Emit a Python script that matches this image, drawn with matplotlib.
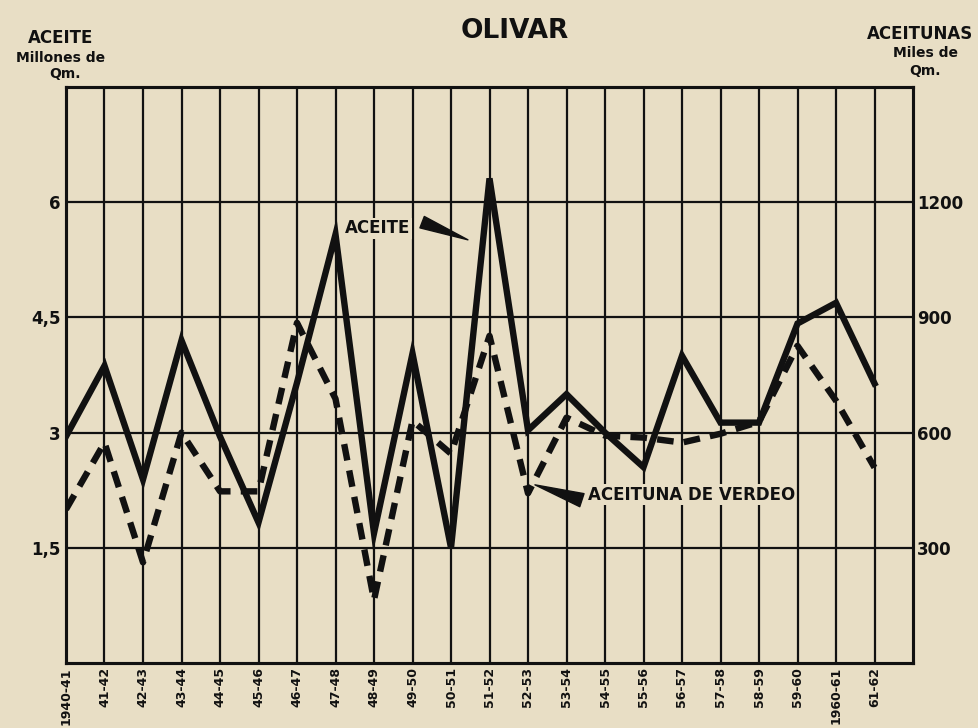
import numpy as np
import matplotlib
matplotlib.use("Agg")
import matplotlib.pyplot as plt

plt.rcParams.update({
    "font.family": ["Liberation Sans Narrow", "DejaVu Sans"],
    "font.weight": "bold",
})

#%% Data
campanas = ["1940-41", "41-42", "42-43", "43-44", "44-45", "45-46", "46-47",
            "47-48", "48-49", "49-50", "50-51", "51-52", "52-53", "53-54",
            "54-55", "55-56", "56-57", "57-58", "58-59", "59-60", "1960-61",
            "61-62"]

# Aceite, millones de Qm (eje izquierdo)
aceite = [2.95, 3.87, 2.39, 4.2, 2.95, 1.83, 3.65, 5.58, 1.69, 4.03, 1.5,
          6.31, 3.03, 3.5, 3.0, 2.55, 4.0, 3.13, 3.13, 4.42, 4.69, 3.64]

# Aceituna de verdeo, miles de Qm (eje derecho)
verdeo = [400, 574, 262, 600, 447, 447, 886, 688, 164, 631, 545, 852, 442,
          639, 592, 587, 574, 597, 628, 826, 683, 509]

left_ticks = [1.5, 3, 4.5, 6]
left_labels = ["1,5", "3", "4,5", "6"]
right_ticks = [300, 600, 900, 1200]

#%% Figure
bg = "#e8dec5"
ink = "#111111"
fig = plt.figure(figsize=(9.79, 7.28), dpi=100, facecolor=bg)
ax = fig.add_axes([66 / 979, 1 - 663 / 728, 847 / 979, 576 / 728])
ax.set_facecolor(bg)
ax2 = ax.twinx()

x = np.arange(len(campanas))

ax.plot(x, aceite, color=ink, lw=4.6, solid_joinstyle="miter", zorder=4)
ax2.plot(x, verdeo, color=ink, lw=4.6, dashes=(2.6, 1.6), zorder=3)

ax.set_xlim(0, len(campanas))
ax.set_ylim(0, 7.5)
ax2.set_ylim(0, 1500)

ax.set_xticks(x)
ax.set_xticklabels(campanas, rotation=90, fontsize=9, fontweight="bold")
ax.set_yticks(left_ticks)
ax.set_yticklabels(left_labels, fontsize=12, fontweight="bold")
ax2.set_yticks(right_ticks)
ax2.set_yticklabels([str(v) for v in right_ticks], fontsize=12, fontweight="bold")

ax.tick_params(axis="x", length=0, pad=3, colors=ink)
ax.tick_params(axis="y", length=0, pad=4, colors=ink)
ax2.tick_params(axis="y", length=0, pad=3, colors=ink)
ax.grid(True, color=ink, lw=1.6)
ax.set_axisbelow(True)
for a in (ax, ax2):
    for s in a.spines.values():
        s.set_linewidth(2.2)
        s.set_color(ink)

#%% Text
fig.text(0.526, 0.958, "OLIVAR", ha="center", va="center", fontsize=19,
         fontweight="bold", color=ink)
fig.text(0.062, 0.948, "ACEITE", ha="center", va="center", fontsize=12,
         fontweight="bold", color=ink)
fig.text(0.062, 0.921, "Millones de", ha="center", va="center", fontsize=10,
         fontweight="bold", color=ink)
fig.text(0.066, 0.898, "Qm.", ha="center", va="center", fontsize=10,
         fontweight="bold", color=ink)
fig.text(0.94, 0.953, "ACEITUNAS", ha="center", va="center", fontsize=12,
         fontweight="bold", color=ink)
fig.text(0.945, 0.927, "Miles de", ha="center", va="center", fontsize=10,
         fontweight="bold", color=ink)
fig.text(0.945, 0.903, "Qm.", ha="center", va="center", fontsize=10,
         fontweight="bold", color=ink)

ax.text(8.1, 5.66, "ACEITE", ha="center", va="center", fontsize=12,
        fontweight="bold", color=ink, zorder=6,
        bbox=dict(fc=bg, ec="none", pad=1))
ax.annotate("", xy=(10.44, 5.51), xytext=(9.25, 5.74),
            arrowprops=dict(arrowstyle="wedge,tail_width=0.4",
                            mutation_scale=22, fc=ink, ec=ink,
                            shrinkA=0, shrinkB=0), zorder=6)
ax.text(13.55, 2.19, "ACEITUNA DE VERDEO", ha="left", va="center", fontsize=12,
        fontweight="bold", color=ink, zorder=6,
        bbox=dict(fc=bg, ec="none", pad=1))
ax.annotate("", xy=(12.18, 2.32), xytext=(13.4, 2.12),
            arrowprops=dict(arrowstyle="wedge,tail_width=0.45",
                            mutation_scale=22, fc=ink, ec=ink,
                            shrinkA=0, shrinkB=0), zorder=6)

fig.savefig("out.png", dpi=100, facecolor=bg)
